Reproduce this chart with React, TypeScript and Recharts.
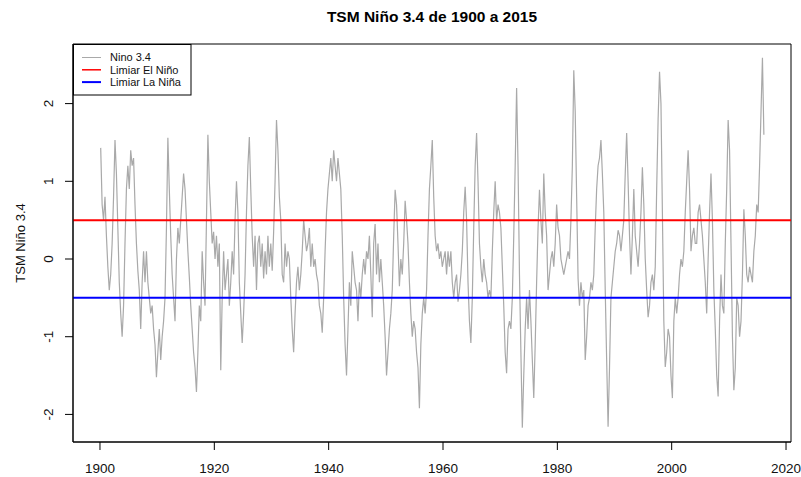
import { LineChart, Line, XAxis, YAxis, ReferenceLine, ReferenceArea } from 'recharts';

// quarterly Niño 3.4 anomalies (°C), one decade per array
const nino1900s = [
  1.43, 0.7, 0.5, 0.8, 0.3, -0.1, -0.4, -0.2, 0.2, 0.8, 1.53, 1.1, 0.4, -0.3, -0.7, -1.0,
  -0.6, 0.2, 0.9, 1.2, 0.9, 1.4, 1.2, 1.3, 0.7, 0.2, -0.15, -0.4, -0.9, -0.3, 0.1, -0.3,
  0.1, -0.3, -0.5, -0.7, -0.6, -0.9, -1.1, -1.52,
];
const nino1910s = [
  -1.2, -0.9, -1.3, -1.0, -0.8, -0.5, 0.4, 1.56, 0.9, 0.3, -0.2, -0.5, -0.8, 0.0, 0.4, 0.2,
  0.5, 0.8, 1.1, 0.9, 0.5, 0.1, -0.23, -0.6, -0.9, -1.2, -1.4, -1.71, -1.2, -0.6, -0.8, 0.1,
  -0.3, -0.6, 0.5, 1.6, 1.0, 0.6, 0.2, 0.35,
];
const nino1920s = [
  0.0, 0.3, -0.1, 0.2, -1.43, -0.5, 0.1, -0.4, -0.2, 0.0, -0.6, -0.3, 0.1, -0.2, 0.5, 1.0,
  0.6, -0.3, -0.7, -1.08, -0.7, -0.2, 0.6, 1.2, 1.57, 0.9, 0.3, -0.1, 0.3, -0.4, 0.2, 0.3,
  -0.1, 0.2, -0.25, 0.1, -0.2, 0.3, -0.1, 0.2,
];
const nino1930s = [
  -0.15, 0.35, 1.0, 1.79, 1.4, 0.8, 0.5, -0.2, -0.3, 0.2, -0.1, 0.1, 0.0, -0.5, -0.9, -1.2,
  -0.7, -0.3, -0.1, -0.4, -0.2, 0.1, 0.5, 0.3, 0.1, 0.2, 0.4, -0.1, 0.2, -0.1, 0.0, -0.2,
  -0.3, -0.6, -0.7, -0.95, -0.5, 0.1, 0.6, 0.9,
];
const nino1940s = [
  1.1, 1.3, 1.0, 1.4, 1.2, 1.0, 1.3, 1.1, 0.9, 0.3, -0.5, -1.1, -1.5, -0.9, -0.3, -0.6,
  0.1, -0.1, -0.3, -0.4, -0.8, -0.3, -0.5, -0.2, 0.0, -0.2, 0.1, 0.0, 0.3, -0.2, -0.75, 0.2,
  0.45, -0.2, 0.2, -0.3, 0.0, -0.3, -0.6, -1.0,
];
const nino1950s = [
  -1.5, -1.2, -0.9, -0.7, -0.4, 0.3, 0.89, 0.7, 0.2, -0.35, 0.0, -0.2, 0.2, 0.75, 0.5, 0.2,
  -0.3, -0.7, -1.0, -0.8, -0.9, -1.2, -1.4, -1.92, -1.1, -0.7, -0.5, -0.7, -0.4, 0.3, 0.9, 1.2,
  1.53, 0.8, 0.3, 0.1, 0.2, 0.0, 0.1, -0.1,
];
const nino1960s = [
  0.0, 0.1, -0.2, 0.1, -0.1, 0.1, -0.3, -0.5, -0.3, -0.2, -0.55, -0.4, -0.2, 0.1, 0.6, 0.93,
  0.5, -0.3, -0.8, -1.08, -0.5, 0.4, 1.2, 1.62, 1.0, 0.2, -0.1, -0.3, 0.0, -0.2, -0.3, -0.5,
  -0.4, -0.5, 0.1, 0.6, 1.0, 0.5, 0.7, 0.6,
];
const nino1970s = [
  0.4, -0.1, -0.6, -1.2, -1.47, -0.9, -0.8, -0.9, -0.5, 0.3, 1.2, 2.2, 1.2, -0.2, -1.2, -2.17,
  -1.5, -0.9, -0.5, -0.9, -0.4, -0.8, -1.3, -1.79, -1.1, -0.3, 0.4, 0.89, 0.5, 0.2, 1.1, 0.6,
  0.3, -0.4, -0.2, 0.0, 0.1, -0.1, 0.2, 0.7,
];
const nino1980s = [
  0.4, 0.3, 0.0, -0.1, -0.2, -0.1, 0.0, 0.1, 0.0, 0.5, 1.2, 2.43, 1.9, 0.8, -0.25, -0.6,
  -0.3, -0.5, -0.4, -1.3, -1.0, -0.6, -0.5, -0.3, -0.4, -0.2, 0.4, 0.9, 1.2, 1.3, 1.53, 1.1,
  0.6, -0.4, -1.3, -2.16, -1.4, -0.5, -0.3, -0.1,
];
const nino1990s = [
  0.1, 0.2, 0.37, 0.3, 0.1, 0.3, 0.5, 1.1, 1.62, 1.0, 0.3, -0.2, 0.3, 0.9, 0.3, 0.1,
  -0.1, 0.2, 0.6, 1.18, 0.7, 0.0, -0.4, -0.75, -0.6, -0.3, -0.2, -0.4, -0.1, 0.9, 1.8, 2.41,
  2.0, 0.6, -0.8, -1.39, -1.2, -0.9, -1.0, -1.5,
];
const nino2000s = [
  -1.79, -0.8, -0.5, -0.7, -0.5, -0.2, 0.0, -0.1, 0.1, 0.6, 1.0, 1.4, 0.9, 0.1, 0.3, 0.4,
  0.2, 0.2, 0.6, 0.7, 0.5, 0.3, 0.0, -0.3, -0.7, 0.0, 0.6, 1.1, 0.5, -0.4, -0.9, -1.5,
  -1.77, -0.8, -0.2, -0.6, -0.7, 0.2, 0.9, 1.79,
];
const nino2010s = [
  1.4, 0.2, -1.0, -1.69, -1.4, -0.5, -0.6, -1.0, -0.8, -0.2, 0.64, 0.3, -0.2, -0.3, -0.1, -0.2,
  -0.3, 0.1, 0.3, 0.7, 0.6, 1.2, 1.9, 2.59, 1.6,
];

const START_YEAR = 1900;
const PER_YEAR = 4;
const nino34 = [
  ...nino1900s, ...nino1910s, ...nino1920s, ...nino1930s, ...nino1940s, ...nino1950s,
  ...nino1960s, ...nino1970s, ...nino1980s, ...nino1990s, ...nino2000s, ...nino2010s,
];

const yearTicks = [1900, 1920, 1940, 1960, 1980, 2000, 2020];
const valueTicks = [-2, -1, 0, 1, 2];
const EL_NINO = 0.5;
const LA_NINA = -0.5;

const legendItems = [
  { label: 'Nino 3.4', color: '#A9A9A9', width: 1 },
  { label: 'Limiar El Niño', color: '#FF0000', width: 1.5 },
  { label: 'Limiar La Niña', color: '#0000FF', width: 2 },
];

const X_DOMAIN: [number, number] = [1895.28, 2020.87];
const Y_DOMAIN: [number, number] = [-2.355, 2.767];
const FONT = "'Liberation Sans', Arial, Helvetica, sans-serif";

const data = nino34.map((v, i) => ({ year: START_YEAR + (i + 0.5) / PER_YEAR, nino: v }));

function YTick(props: any) {
  const { x, y, payload } = props;
  return (
    <text x={x} y={y} transform={`rotate(-90 ${x} ${y})`} textAnchor="middle"
      fontSize={13.5} fontFamily={FONT} fill="#111">
      {payload.value}
    </text>
  );
}

export default function App() {
  return (
    <div style={{ position: 'absolute', left: 0, top: 0, width: 801, height: 477, background: '#fff' }}>
      <LineChart width={801} height={477} data={data}
        margin={{ top: 44, right: 10, bottom: 0, left: 0 }}>
        <XAxis dataKey="year" type="number" domain={X_DOMAIN} ticks={yearTicks} interval={0}
          allowDataOverflow height={35} tickSize={8} tickMargin={13}
          axisLine={{ stroke: '#000' }} tickLine={{ stroke: '#000' }}
          tick={{ fontSize: 13.5, fontFamily: FONT, fill: '#111' }} />
        <YAxis type="number" domain={Y_DOMAIN} ticks={valueTicks} interval={0}
          allowDataOverflow width={73} tickSize={8} tickMargin={12}
          axisLine={{ stroke: '#000' }} tickLine={{ stroke: '#000' }}
          tick={<YTick />} />
        <ReferenceArea x1={X_DOMAIN[0]} x2={X_DOMAIN[1]} y1={Y_DOMAIN[0]} y2={Y_DOMAIN[1]}
          fill="none" fillOpacity={0} stroke="#000" strokeWidth={1} ifOverflow="visible" />
        <Line type="linear" dataKey="nino" stroke="#A9A9A9" strokeWidth={1.2} dot={false}
          isAnimationActive={false} />
        <ReferenceLine y={EL_NINO} stroke="#FF0000" strokeWidth={2} />
        <ReferenceLine y={LA_NINA} stroke="#0000FF" strokeWidth={2} />
      </LineChart>
      <svg width={801} height={477} style={{ position: 'absolute', left: 0, top: 0, pointerEvents: 'none' }}
        fontFamily={FONT}>
        <text x={432} y={22} textAnchor="middle" fontSize={15.5} fontWeight="bold" fill="#000">
          TSM Niño 3.4 de 1900 a 2015
        </text>
        <text x={25} y={243} transform="rotate(-90 25 243)" textAnchor="middle" fontSize={13} fill="#111">
          TSM Niño 3.4
        </text>
        <rect x={73.5} y={44.5} width={117.5} height={50.5} fill="#fff" stroke="#000" strokeWidth={1} />
        {legendItems.map((item, i) => (
          <g key={item.label}>
            <line x1={82} x2={101} y1={57.5 + i * 12.3} y2={57.5 + i * 12.3}
              stroke={item.color} strokeWidth={item.width} />
            <text x={110} y={61.3 + i * 12.3} fontSize={11} fill="#111">{item.label}</text>
          </g>
        ))}
      </svg>
    </div>
  );
}
